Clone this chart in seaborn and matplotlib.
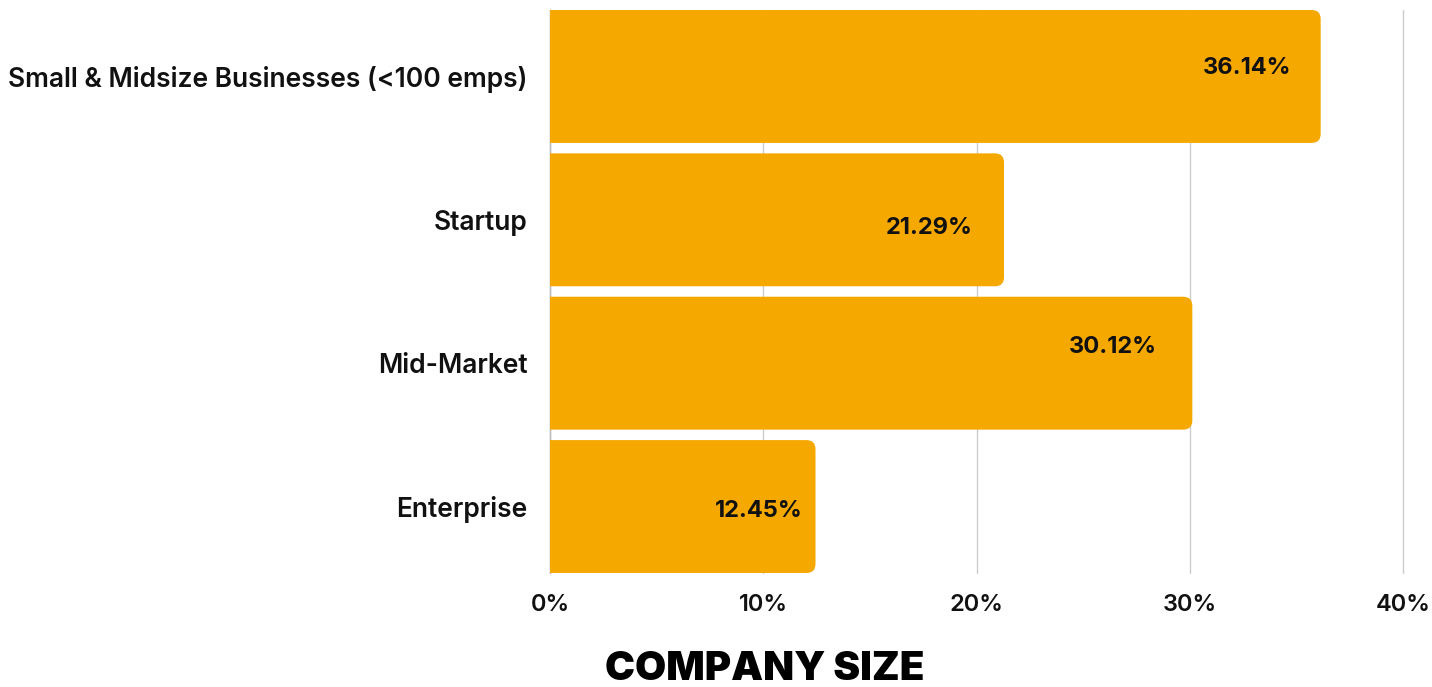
import matplotlib
matplotlib.use("Agg")
import matplotlib.pyplot as plt
from matplotlib.patches import FancyBboxPatch
import seaborn as sns
import pandas as pd

# Share of respondents by company size
categories = ["Small & Midsize Businesses (<100 emps)", "Startup", "Mid-Market", "Enterprise"]
shares = [36.14, 21.29, 30.12, 12.45]
tick_values = [0, 10, 20, 30, 40]
tick_labels = ["0%", "10%", "20%", "30%", "40%"]
title = "COMPANY SIZE"

bar_color = "#F5A800"
grid_color = "#CCCCCC"
bar_width = 0.927

sns.set_theme(style="white")
plt.rcParams["font.family"] = ["Inter", "DejaVu Sans"]

df = pd.DataFrame({"size": categories, "share": shares})

W, H = 1432, 687
fig = plt.figure(figsize=(W / 100, H / 100), dpi=100)
ax = fig.add_axes([550 / W, 1 - 573 / H, (1403 - 550) / W, (573 - 10) / H])

sns.barplot(data=df, x="share", y="size", orient="h", color=bar_color,
            width=bar_width, saturation=1, ax=ax, zorder=3)

ax.set_xlim(0, 40)
ax.set_ylim(len(categories) - 1 + bar_width / 2, -bar_width / 2)

# swap the square bars for bars with rounded right ends
fig.canvas.draw()
px_x = ax.transData.transform((1, 0))[0] - ax.transData.transform((0, 0))[0]
px_y = abs(ax.transData.transform((0, 1))[1] - ax.transData.transform((0, 0))[1])
radius_px = 9
for bar in list(ax.patches):
    x0, y0 = bar.get_x(), bar.get_y()
    w, h = bar.get_width(), bar.get_height()
    bar.set_visible(False)
    r = radius_px / px_x
    rounded = FancyBboxPatch((x0 - 2, y0), w + 2, h,
                             boxstyle=f"round,pad=0,rounding_size={r}",
                             mutation_aspect=px_x / px_y,
                             facecolor=bar_color, edgecolor="none", zorder=3)
    ax.add_patch(rounded)
    rounded.set_clip_path(ax.patch)

# value labels inside the bars
label_dx = [-74, -75, -79, -57]
label_dy = [-8, 8, -16, 4]
for i, v in enumerate(shares):
    ax.annotate(f"{v:.2f}%", xy=(v, i), xytext=(label_dx[i], -label_dy[i]),
                textcoords="offset pixels", ha="center", va="center",
                fontsize=17, fontweight="bold", color="#111111", zorder=4)

ax.set_xticks(tick_values)
ax.set_xticklabels(tick_labels, fontsize=17, fontweight="semibold", color="#111111")
ax.tick_params(axis="y", labelsize=19, labelcolor="#111111", length=0, pad=16)
ax.tick_params(axis="x", length=0, pad=15)
for lab in ax.get_yticklabels():
    lab.set_fontweight("semibold")

ax.grid(axis="x", color=grid_color, linewidth=1, zorder=0)
ax.grid(axis="y", visible=False)
for line in ax.get_xgridlines():
    line.set_clip_on(False)
for side in ["top", "right", "bottom"]:
    ax.spines[side].set_visible(False)
ax.spines["left"].set_color("#BBBBBB")
ax.spines["left"].set_linewidth(1)
ax.spines["left"].set_zorder(2)
ax.set_xlabel("")
ax.set_ylabel("")

fig.text(765 / W, 1 - 680 / H, title, ha="center", va="baseline",
         fontsize=29, fontweight="black", color="#000000")

fig.savefig("out.png", dpi=100)
